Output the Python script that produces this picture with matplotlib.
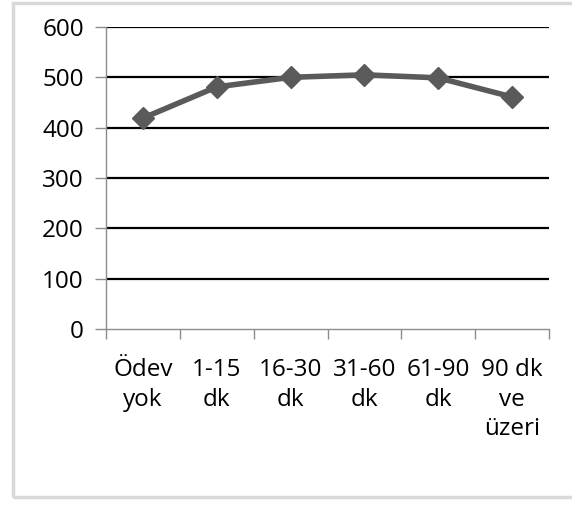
import matplotlib.pyplot as plt
from matplotlib.patches import Rectangle
import numpy as np

# Data
categories = ["Ödev\nyok", "1-15\ndk", "16-30\ndk", "31-60\ndk", "61-90\ndk", "90 dk\nve\nüzeri"]
values = [419, 481, 500, 505, 499, 461]
y_ticks = [0, 100, 200, 300, 400, 500, 600]

plt.rcParams['font.family'] = ['Open Sans', 'DejaVu Sans']

W, H = 572, 505
fig = plt.figure(figsize=(W / 100, H / 100), dpi=100)
fig.patch.set_facecolor("white")

# light gray chart-area border
fig.patches.append(Rectangle((13 / W, 1 - 497 / H), 570 / W, 494 / H,
                             transform=fig.transFigure, fill=False,
                             edgecolor="#d9d9d9", linewidth=2.5))

ax = fig.add_axes([106 / W, 1 - 329 / H, 443 / W, 302 / H])
x = np.arange(len(categories))

# horizontal gridlines
for t in y_ticks[1:]:
    ax.axhline(t, color="black", linewidth=1.6, zorder=1)

ax.plot(x, values, color="#5a5a5a", linewidth=4, marker="D", markersize=11,
        zorder=3, solid_joinstyle="round")

ax.set_xlim(-0.5, len(categories) - 0.5)
ax.set_ylim(0, 600)
ax.set_yticks(y_ticks)
ax.set_xticks(x)
ax.set_xticklabels(categories, fontsize=17.5, linespacing=1.3)
ax.set_xticks(np.arange(-0.5, len(categories)), minor=True)
ax.tick_params(axis="x", which="major", length=0, pad=21)
ax.tick_params(axis="x", which="minor", length=7, width=1, color="#8c8c8c", direction="out")
ax.tick_params(axis="y", length=8, width=1, color="#8c8c8c", labelsize=17.5, pad=8)

for s in ["top", "right"]:
    ax.spines[s].set_visible(False)
for s in ["left", "bottom"]:
    ax.spines[s].set_color("#8c8c8c")
    ax.spines[s].set_linewidth(1)

plt.savefig("out.png", dpi=100)
